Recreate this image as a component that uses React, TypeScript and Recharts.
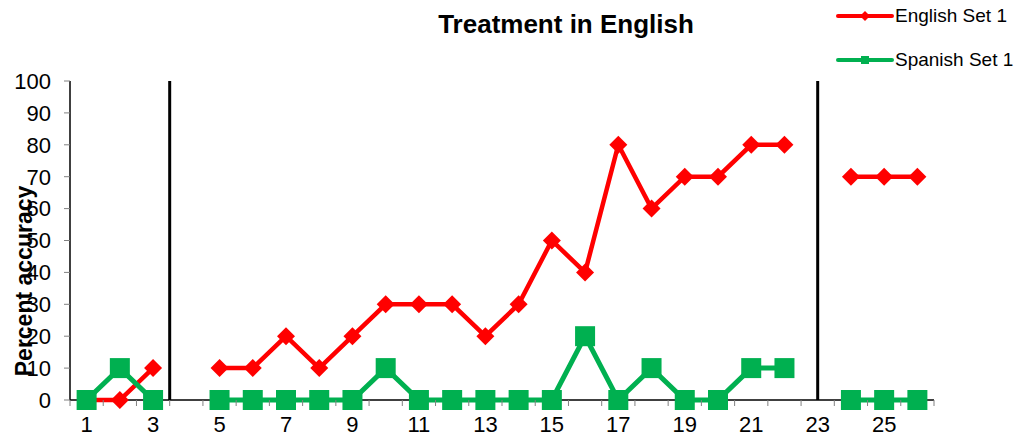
import React from 'react';
import { LineChart, Line, XAxis, YAxis, ReferenceLine } from 'recharts';

// sessions along the x axis
const sessions = [1, 2, 3, 4, 5, 6, 7, 8, 9, 10, 11, 12, 13, 14, 15, 16, 17, 18, 19, 20, 21, 22, 23, 24, 25, 26];
const englishSet1 = [0, 0, 10, null, 10, 10, 20, 10, 20, 30, 30, 30, 20, 30, 50, 40, 80, 60, 70, 70, 80, 80, null, 70, 70, 70];
const spanishSet1 = [0, 10, 0, null, 0, 0, 0, 0, 0, 10, 0, 0, 0, 0, 0, 20, 0, 10, 0, 0, 10, 10, null, 0, 0, 0];

const xLabelTicks = [1, 3, 5, 7, 9, 11, 13, 15, 17, 19, 21, 23, 25];
const xBoundaryTicks = [0.5, 1.5, 2.5, 3.5, 4.5, 5.5, 6.5, 7.5, 8.5, 9.5, 10.5, 11.5, 12.5, 13.5, 14.5, 15.5, 16.5, 17.5, 18.5, 19.5, 20.5, 21.5, 22.5, 23.5, 24.5, 25.5, 26.5];
const yTicks = [0, 10, 20, 30, 40, 50, 60, 70, 80, 90, 100];
const phaseBreaks = [3.5, 23];

const RED = '#ff0000';
const GREEN = '#00b050';
const FONT = '"Liberation Sans", Arial, sans-serif';

const data = sessions.map((s, i) => ({
  session: s,
  english: englishSet1[i],
  spanish: spanishSet1[i],
}));

const allXTicks = [...xBoundaryTicks, ...xLabelTicks].sort((a, b) => a - b);

function DiamondDot(props: any) {
  const { cx, cy, key } = props;
  if (cx == null || cy == null) return <g key={key} />;
  const r = 9;
  return (
    <polygon
      key={key}
      points={`${cx},${cy - r} ${cx + r},${cy} ${cx},${cy + r} ${cx - r},${cy}`}
      fill={RED}
    />
  );
}

function SquareDot(props: any) {
  const { cx, cy, key } = props;
  if (cx == null || cy == null) return <g key={key} />;
  const h = 10;
  return <rect key={key} x={cx - h} y={cy - h} width={h * 2} height={h * 2} fill={GREEN} />;
}

// boundary values get a tick mark, odd sessions get a label
function XTick(props: any) {
  const { x, y, payload } = props;
  const v = payload.value;
  if (xLabelTicks.includes(v)) {
    return (
      <text x={x} y={y + 16} dy="0.71em" textAnchor="middle" fontSize={22} fontFamily={FONT} fill="#000">
        {v}
      </text>
    );
  }
  return <line x1={x} y1={y} x2={x} y2={y + 6} stroke="#808080" strokeWidth={1} />;
}

function ChartLegend() {
  const rows = [
    { name: 'English Set 1', color: RED, shape: 'diamond' },
    { name: 'Spanish Set 1', color: GREEN, shape: 'square' },
  ];
  return (
    <div style={{ position: 'absolute', left: 835, top: 6, fontFamily: FONT, fontSize: 19, color: '#000' }}>
      {rows.map((r, i) => (
        <div
          key={r.name}
          style={{ display: 'flex', alignItems: 'center', height: 20, marginTop: i === 0 ? 0 : 24 }}
        >
          <svg width={60} height={20}>
            <line x1={3} y1={10} x2={57} y2={10} stroke={r.color} strokeWidth={4} strokeLinecap="round" />
            {r.shape === 'diamond' ? (
              <polygon points="30,5 35,10 30,15 25,10" fill={r.color} />
            ) : (
              <rect x={26} y={6} width={8} height={8} fill={r.color} />
            )}
          </svg>
          <span>{r.name}</span>
        </div>
      ))}
    </div>
  );
}

function YLabel() {
  return (
    <text
      x={24}
      y={281}
      transform="rotate(-90 24 281)"
      textAnchor="middle"
      dominantBaseline="central"
      fontFamily={FONT}
      fontSize={23}
      fontWeight="bold"
      fill="#000"
    >
      Percent accuracy
    </text>
  );
}

export default function App() {
  return (
    <div style={{ position: 'absolute', left: 0, top: 0, width: 1019, height: 436, background: '#fff' }}>
      <div
        style={{
          position: 'absolute',
          left: 366,
          width: 400,
          top: 9,
          textAlign: 'center',
          fontFamily: FONT,
          fontWeight: 'bold',
          fontSize: 26,
          color: '#000',
        }}
      >
        Treatment in English
      </div>
      <ChartLegend />
      <LineChart
        width={1019}
        height={436}
        data={data}
        margin={{ top: 81, right: 85, bottom: 6, left: 30 }}
        style={{ fontFamily: FONT }}
      >
        <XAxis
          type="number"
          dataKey="session"
          domain={[0.5, 26.5]}
          ticks={allXTicks}
          height={30}
          tickLine={false}
          tickSize={0}
          tickMargin={0}
          interval={0}
          tick={XTick}
          axisLine={false}
        />
        <YAxis
          domain={[0, 100]}
          ticks={yTicks}
          width={40}
          interval={0}
          tickSize={6}
          tickMargin={13}
          tickLine={{ stroke: '#808080', strokeWidth: 1 }}
          axisLine={{ stroke: '#000', strokeWidth: 1.5 }}
          tick={{ fill: '#000', fontSize: 22, fontFamily: FONT }}
        />
        <ReferenceLine y={0} stroke="#000" strokeWidth={1.5} />
        {phaseBreaks.map((x) => (
          <ReferenceLine key={x} x={x} stroke="#000" strokeWidth={3} />
        ))}
        <Line
          dataKey="english"
          name="English Set 1"
          stroke={RED}
          strokeWidth={4.5}
          dot={DiamondDot}
          activeDot={false}
          connectNulls={false}
          isAnimationActive={false}
        />
        <Line
          dataKey="spanish"
          name="Spanish Set 1"
          stroke={GREEN}
          strokeWidth={5}
          dot={SquareDot}
          activeDot={false}
          connectNulls={false}
          isAnimationActive={false}
        />
        <YLabel />
      </LineChart>
    </div>
  );
}
